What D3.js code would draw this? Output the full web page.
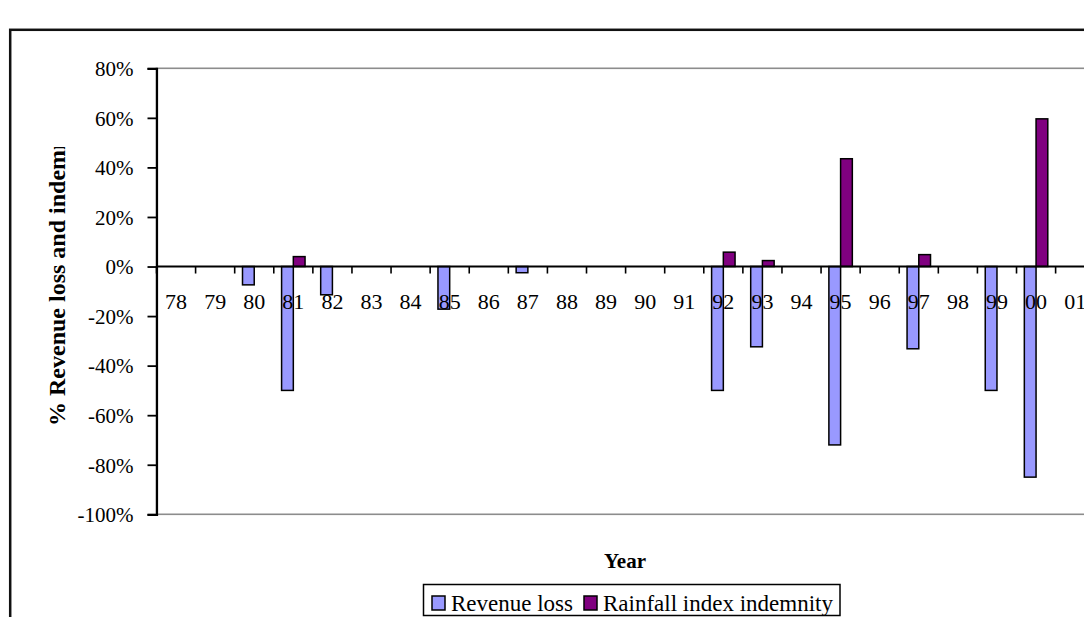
<!DOCTYPE html>
<html>
<head>
<meta charset="utf-8">
<script src="https://cdn.jsdelivr.net/npm/d3@7"></script>
<style>
  html, body { margin: 0; padding: 0; background: #fff; }
  svg { display: block; }
  text { font-family: "Liberation Serif", "Times New Roman", serif; fill: #000; }
</style>
</head>
<body>
<svg id="chart" width="1084" height="617"></svg>
<script>
// Crop years (two-digit labels) and the two series, in percent
const years = ["78","79","80","81","82","83","84","85","86","87","88","89",
               "90","91","92","93","94","95","96","97","98","99","00","01"];
const revenueLoss = [0, 0, -7.4, -50, -11.4, 0, 0, -17.2, 0, -2.5, 0, 0,
                     0, 0, -50, -32.4, 0, -72, 0, -33.2, 0, -50, -85, 0];
const rainfallIndemnity = [0, 0, 0, 4, 0, 0, 0, 0, 0, 0, 0, 0,
                           0, 0, 5.8, 2.4, 0, 43.5, 0, 4.8, 0, 0, 59.6, 0];
const yTicks = [80, 60, 40, 20, 0, -20, -40, -60, -80, -100];
const seriesNames = ["Revenue loss", "Rainfall index indemnity"];
const seriesColors = ["#9999FF", "#800080"];

const svg = d3.select("#chart");

// Plot area (extends past the right edge of the page)
const plot = { left: 156.5, right: 1094.7, top: 68.3, bottom: 514.3 };

const x0 = d3.scaleBand()
  .domain(years)
  .range([plot.left, plot.right])
  .paddingInner(0.4)
  .paddingOuter(0.2);
const x1 = d3.scaleBand()
  .domain([0, 1])
  .range([0, x0.bandwidth()]);
const y = d3.scaleLinear()
  .domain([-100, 80])
  .range([plot.bottom, plot.top]);

const step = x0.step();
const boundary = (i) => x0(years[0]) - step * x0.paddingOuter() + i * step;

// Outer chart frame
svg.append("rect")
  .attr("x", 10.2).attr("y", 29.8)
  .attr("width", 1200).attr("height", 700)
  .attr("fill", "none").attr("stroke", "#111").attr("stroke-width", 2.5);

// Plot area border
svg.append("rect")
  .attr("x", plot.left).attr("y", plot.top)
  .attr("width", plot.right - plot.left).attr("height", plot.bottom - plot.top)
  .attr("fill", "none").attr("stroke", "#8c8c8c").attr("stroke-width", 1.6);

// Bars
const rows = years.map((yr, i) => ({ yr, vals: [revenueLoss[i], rainfallIndemnity[i]] }));
const groups = svg.append("g").selectAll("g")
  .data(rows).join("g")
  .attr("transform", d => `translate(${x0(d.yr)},0)`);
groups.selectAll("rect")
  .data(d => d.vals.map((v, k) => ({ v, k })).filter(e => e.v !== 0))
  .join("rect")
  .attr("x", e => x1(e.k))
  .attr("width", x1.bandwidth())
  .attr("y", e => y(Math.max(0, e.v)))
  .attr("height", e => Math.abs(y(e.v) - y(0)))
  .attr("fill", e => seriesColors[e.k])
  .attr("stroke", "#000")
  .attr("stroke-width", 1.5);

// Zero line with category boundary ticks
svg.append("line")
  .attr("x1", plot.left).attr("x2", plot.right)
  .attr("y1", y(0)).attr("y2", y(0))
  .attr("stroke", "#000").attr("stroke-width", 1.8);
svg.append("g").selectAll("line")
  .data(d3.range(years.length + 1)).join("line")
  .attr("x1", i => boundary(i)).attr("x2", i => boundary(i))
  .attr("y1", y(0)).attr("y2", y(0) + 7)
  .attr("stroke", "#000").attr("stroke-width", 1.6);

// Year labels, drawn over the bars
const xAxis = svg.append("g")
  .attr("transform", `translate(0,${y(0)})`)
  .call(d3.axisBottom(x0).tickSize(0).tickPadding(0));
xAxis.select(".domain").remove();
xAxis.selectAll("text")
  .attr("y", 42).attr("dy", null)
  .style("font-size", "22px")
  .style("font-family", "Liberation Serif, Times New Roman, serif");

// Y axis
const yAxis = svg.append("g")
  .attr("transform", `translate(${plot.left},0)`)
  .call(d3.axisLeft(y).tickValues(yTicks).tickFormat(d => d + "%").tickSize(9).tickPadding(14));
yAxis.select(".domain").attr("stroke-width", 2.2);
yAxis.selectAll(".tick line").attr("stroke-width", 1.8);
yAxis.selectAll("text")
  .attr("dy", "0.35em")
  .style("font-size", "21px")
  .style("font-family", "Liberation Serif, Times New Roman, serif");

// Y axis title (clipped at the top)
svg.append("clipPath").attr("id", "ytitle-clip")
  .append("rect").attr("x", 0).attr("y", 147).attr("width", 120).attr("height", 470);
svg.append("g")
  .attr("clip-path", "url(#ytitle-clip)")
  .append("text")
  .attr("transform", "translate(65,426) rotate(-90)")
  .attr("text-anchor", "start")
  .style("font-size", "24px")
  .style("font-weight", "bold")
  .text("% Revenue loss and indemnity");

// X axis title
svg.append("text")
  .attr("x", 625).attr("y", 568)
  .attr("text-anchor", "middle")
  .style("font-size", "21px")
  .style("font-weight", "bold")
  .text("Year");

// Legend
const legend = svg.append("g");
legend.append("rect")
  .attr("x", 423.5).attr("y", 584.5).attr("width", 416.5).attr("height", 31)
  .attr("fill", "#fff").attr("stroke", "#000").attr("stroke-width", 1.5);
const legendItems = [
  { x: 432, name: seriesNames[0], color: seriesColors[0] },
  { x: 584, name: seriesNames[1], color: seriesColors[1] }
];
legend.selectAll("g").data(legendItems).join("g")
  .each(function(d) {
    const g = d3.select(this);
    g.append("rect")
      .attr("x", d.x).attr("y", 596).attr("width", 13).attr("height", 14)
      .attr("fill", d.color).attr("stroke", "#000").attr("stroke-width", 1.5);
    g.append("text")
      .attr("x", d.x + 19).attr("y", 611)
      .style("font-size", "23px")
      .text(d.name);
  });
</script>
</body>
</html>
